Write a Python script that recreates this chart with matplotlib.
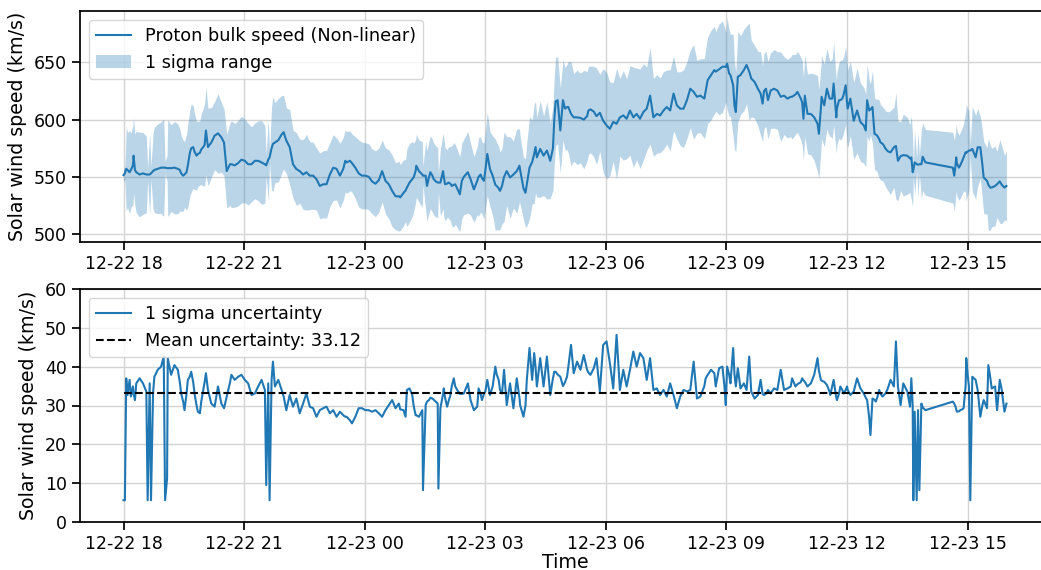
import numpy as np
import matplotlib
matplotlib.use("Agg")
import matplotlib.pyplot as plt
import matplotlib.dates as mdates

# ---- data (minutes after 12-22 18:00) ----
START = np.datetime64("2024-12-22T18:00")
minutes = [
    0, 2, 4, 6, 9, 11, 14, 15, 17, 19, 24, 29, 34, 36, 39, 41, 44, 46, 51, 56,
    60, 62, 65, 66, 71, 76, 81, 84, 86, 89, 91, 94, 96, 99, 101, 104, 106, 109, 111, 114,
    116, 119, 121, 123, 126, 131, 136, 141, 146, 150, 154, 159, 161, 166, 171, 176, 181, 186, 191, 196,
    201, 206, 211, 213, 216, 218, 221, 223, 226, 231, 236, 239, 243, 248, 253, 258, 263, 268, 273, 278,
    283, 288, 293, 298, 303, 308, 313, 318, 323, 328, 331, 333, 338, 341, 346, 351, 356, 361, 366, 371,
    376, 381, 386, 391, 396, 401, 406, 411,
    413, 418, 421, 423, 427, 431, 433, 436, 437, 441, 446, 447, 451, 453, 456, 458, 461, 463, 466, 469,
    470, 473, 477, 478, 480, 483, 485, 488, 490, 493, 495, 498, 502, 505, 508, 514, 518, 523, 528, 530,
    533, 535, 538, 540, 543, 547, 551, 555, 557, 560, 562, 565, 568, 572, 577, 582, 587, 591, 592, 597,
    600, 602, 606, 610, 613, 615, 617, 622, 627, 632, 637, 641, 643, 645, 648, 652, 656, 659, 662, 664,
    668, 672, 677, 682, 687, 692, 694, 697, 702, 706, 711, 716, 721, 726, 731, 736, 741, 746, 751, 756,
    761, 766, 771, 776, 781, 786, 791, 796, 801, 806, 811, 816, 821, 826, 831, 836, 841, 846, 851, 856,
    861,
    867, 869, 872, 877, 882, 884, 889, 894, 897, 899, 901, 904, 906, 910, 912, 914, 917, 921, 926, 930,
    934, 937, 942, 947, 951, 954, 956, 959, 962, 966, 971, 976, 981, 986, 991, 996, 998, 1003, 1006, 1008,
    1011, 1013, 1015, 1017, 1021, 1026, 1031, 1036, 1038, 1041, 1042, 1046, 1050, 1054, 1055, 1058, 1060, 1064, 1065, 1068,
    1070, 1073, 1075, 1078, 1080, 1081, 1085, 1090, 1095, 1100, 1105, 1108, 1110, 1113, 1115, 1118, 1121, 1123, 1125, 1128,
    1130, 1133, 1135, 1137, 1140, 1142, 1145, 1150, 1153, 1156, 1160, 1164, 1170, 1174, 1176, 1178, 1179, 1181, 1184, 1186,
    1188, 1191, 1193, 1197, 1238, 1240, 1242, 1243, 1244, 1247, 1249, 1252, 1254, 1257, 1258, 1260, 1262, 1264, 1267, 1272,
    1275, 1279, 1282, 1284, 1289, 1291, 1294, 1296, 1301, 1304, 1308, 1311, 1315, 1318,
]
speed = [
    551.5, 553, 557, 556, 554, 556, 560, 568.5, 556, 554, 552, 553, 552, 552, 552, 553, 555, 556, 557, 558,
    558, 558, 557.6, 557.6, 557.6, 558, 557, 556, 553, 551, 552, 554, 560, 571, 575, 576, 572, 568.5, 570, 571,
    574, 576, 578, 590.5, 576, 580, 586, 588, 584.6, 580, 555, 561, 561, 560, 562, 565, 564, 561, 561, 564,
    564, 562.6, 561, 560, 565, 567, 575, 578.8, 580, 582, 587, 589, 581.7, 576, 561, 556.8, 555, 552, 554, 551,
    551, 548, 542, 543.5, 543.5, 552, 558, 557, 551, 557, 564, 562.6, 564, 562, 558, 553, 551, 551, 550, 546,
    544, 547, 555, 546.5, 543.5, 537.7, 533, 533,
    532, 536, 538, 540.6, 545, 548, 549.4, 555, 559.7, 555, 552, 551, 551, 542, 550, 554, 551, 548, 546, 545,
    545, 545, 555, 550, 543.5, 544, 545, 544, 542, 543, 543.5, 540, 534.7, 546.5, 550, 554, 548, 539, 546.5, 550,
    552, 549, 546.5, 555, 570, 556.8, 551, 543, 542, 540, 537.7, 542, 550, 555, 549.4, 552, 555, 559.7, 556, 540,
    536, 543.5, 558, 563, 570, 576, 567, 574.4, 568.5, 573, 564, 575, 600, 616, 617, 590.5, 617, 609.6, 611, 611,
    605, 602, 602, 601.5, 600, 603, 608, 609, 607, 603, 606, 599, 595, 592, 598, 596.4, 602, 603.7, 600.8, 608,
    602, 605, 600.8, 606.7, 609.6, 621, 602, 605, 603.7, 608, 611, 608, 622.8, 612.5, 609.6, 609.6, 617, 627, 624.3, 620,
    621,
    618.4, 625, 634.6, 639, 643.4, 642, 644, 646.3, 646.3, 646, 649, 640.4, 639, 630, 612, 606.7, 637.5, 639, 643.4, 647.8,
    642, 636, 633, 627, 622.8, 614, 625, 627, 617, 625.5, 627, 625.5, 620, 621, 618.4, 620, 620, 622, 624.3, 622,
    618.4, 615, 600.8, 621, 605, 605, 602, 596.4, 587.6, 610, 620, 612.5, 627, 618.4, 618.4, 618.4, 631.6, 602, 610, 617,
    617, 618.4, 622, 630, 615, 609.6, 618.4, 599, 608, 597.9, 595, 590.5, 617, 608, 609, 611, 587.6, 587, 586, 583,
    580, 579, 577.3, 575, 572.9, 572, 571.4, 575.8, 577, 564, 568, 569, 568.5, 566, 567, 554, 556, 562.6, 561, 560.6,
    561, 561, 567.6, 562.6, 558, 551, 560, 567, 562, 558, 560, 564, 567, 571.4, 571, 572, 572.9, 573, 574.4, 567,
    575.8, 575.8, 561, 549.4, 546.5, 543, 540.6, 540.6, 542, 543.5, 546, 543, 540.6, 542,
]
sigma = [
    5.6, 5.6, 37, 32.7, 36.6, 32.3, 34.9, 33, 31.4, 35.7, 37, 35.7, 33.6, 5.6, 35.7, 5.6, 33, 37.4, 39.2, 40,
    42.6, 5.6, 11.2, 42.2, 37.9, 40.4, 39.2, 36, 33.1, 31, 28.8, 33, 36.6, 37.5, 38.7, 36, 33.1, 30, 28.4, 28,
    31, 34, 36, 38.3, 34, 30.5, 29.7, 34.9, 30.5, 29.3, 32.3, 36, 37.9, 36.6, 37.4, 37.9, 36.6, 35.7, 32.7, 33.1,
    34.9, 36.6, 34, 9.5, 35.7, 5.6, 36.6, 41.3, 34.9, 36.6, 34, 32.3, 28.8, 32.7, 29.7, 31.8, 28, 30.5, 33.1, 29.7,
    29.3, 27.1, 28.8, 29.3, 29.7, 28, 28.8, 27.1, 28.4, 27.5, 27.1, 27.1, 26.2, 25.4, 27.1, 29.3, 29.3, 28.8, 28.8, 28.4,
    28.8, 28, 27.1, 28.8, 30.1, 31.4, 29.3, 30.5,
    29, 28.8, 27.1, 34, 34.4, 32.7, 30, 27.5, 27.5, 27.1, 28.8, 8.2, 30.1, 31, 31.4, 32, 31.8, 31.5, 31, 30.5,
    8.6, 29.3, 33, 34.4, 32, 29.7, 31, 32.7, 35, 37, 35, 34, 33, 33, 33.1, 35.7, 31.4, 28.8, 29.7, 34.4,
    33, 31.4, 33, 33.6, 36.6, 32.7, 34.9, 40, 38, 36.6, 34, 33.1, 39.2, 30.1, 35.7, 29.3, 37, 32, 30.1, 27.1,
    30, 36.6, 44.8, 36.6, 43.5, 40, 34.9, 42.2, 34.9, 42.6, 32.7, 37, 38.7, 38.7, 38, 37.4, 35, 36, 37.4, 40,
    45.6, 38.3, 41.3, 39.2, 43, 39.2, 38.5, 37.9, 39.6, 42.2, 33.6, 45.6, 46.5, 40.9, 34.4, 48.2, 34, 39.2, 34.9, 39.2,
    43.9, 40, 43.5, 42.2, 36.6, 42.2, 34, 34.4, 32.7, 34, 32.3, 35.7, 32.7, 29.3, 32.3, 34, 33.6, 34, 41.3, 31.8,
    32.3,
    35, 37, 37.9, 39.2, 38.3, 34.9, 39.6, 40, 35, 30.1, 40, 38, 35.7, 44.8, 38, 34.9, 39.6, 34.4, 35.7, 34,
    42.6, 33.6, 31.8, 32.7, 36.6, 33, 32.7, 33, 34, 33.1, 34.4, 34, 39.2, 34, 34.4, 34.9, 37, 34.9, 35.5, 35.7,
    36, 37, 36.5, 36.1, 34.9, 35.7, 37.9, 42.2, 39, 36.6, 36.4, 36.1, 35.3, 33.5, 32.7, 35, 36.6, 32, 31.4, 33,
    34.9, 34, 33.1, 34, 34.9, 34, 32.7, 33.6, 37, 34.4, 33.1, 32, 31.4, 27, 22.4, 31.8, 31.5, 31, 32, 34,
    33, 32.3, 32.7, 33, 34, 35, 36.6, 34.9, 46.5, 34.9, 30.1, 35.7, 33.6, 29.7, 37, 30, 5.6, 28.4, 5.6, 28.8,
    8.2, 30.5, 29.5, 28.8, 31, 30.5, 29.7, 29, 28.4, 28.5, 28.8, 29, 29.3, 35, 42.2, 38, 34.9, 5.6, 37.4, 36.6,
    34, 27.1, 30, 31.4, 29.3, 40.4, 37, 34.4, 34.9, 28.8, 36.6, 34, 28.4, 30.5,
]
MEAN_UNCERTAINTY = 33.12

times = START + np.array(minutes).astype("timedelta64[m]")
speed = np.array(speed)
sigma = np.array(sigma)

BLUE = "#1f77b4"
plt.rcParams.update({
    "font.family": "DejaVu Sans",
    "font.size": 12.6,
    "axes.labelsize": 13.7,
    "axes.linewidth": 1.25,
    "xtick.major.size": 6,
    "ytick.major.size": 6,
    "xtick.major.width": 1.25,
    "ytick.major.width": 1.25,
    "xtick.labelsize": 12.5,
    "ytick.labelsize": 12.5,
    "legend.fontsize": 12.7,
})

fig = plt.figure(figsize=(10.41, 5.70), dpi=100)
W = 1041.0
H = 570.0
ax1 = fig.add_axes([80 / W, 1 - 242 / H, 970 / W, 231 / H])
ax2 = fig.add_axes([80 / W, 1 - 522 / H, 970 / W, 233 / H])

ax1.plot(times, speed, color=BLUE, lw=1.5, label="Proton bulk speed (Non-linear)")
ax1.fill_between(times, speed - sigma, speed + sigma, color=BLUE, alpha=0.3,
                 linewidth=0, label="1 sigma range")
ax1.set_ylim(493, 695)
ax1.set_yticks([500, 550, 600, 650])
ax1.set_ylabel("Solar wind speed (km/s)", labelpad=5)
ax1.legend(loc="upper left")

ax2.plot(times, sigma, color=BLUE, lw=1.5, label="1 sigma uncertainty")
ax2.hlines(MEAN_UNCERTAINTY, times[0], times[-1], colors="k", linestyles="--", lw=1.5,
           label=f"Mean uncertainty: {MEAN_UNCERTAINTY:.2f}")
ax2.set_ylim(0, 60)
ax2.set_yticks(range(0, 61, 10))
ax2.set_ylabel("Solar wind speed (km/s)", labelpad=5)
ax2.set_xlabel("Time", labelpad=0)
ax2.legend(loc="upper left")

for ax in (ax1, ax2):
    ax.set_xlim(times[0] - (times[-1] - times[0]) * 0.05, times[-1] + (times[-1] - times[0]) * 0.05)
    ax.xaxis.set_major_locator(mdates.HourLocator(byhour=range(0, 24, 3)))
    ax.xaxis.set_major_formatter(mdates.DateFormatter("%m-%d %H"))
    ax.grid(True, color="#d3d3d3", lw=1.0)
    ax.set_axisbelow(True)

fig.savefig("out.png", dpi=100)
